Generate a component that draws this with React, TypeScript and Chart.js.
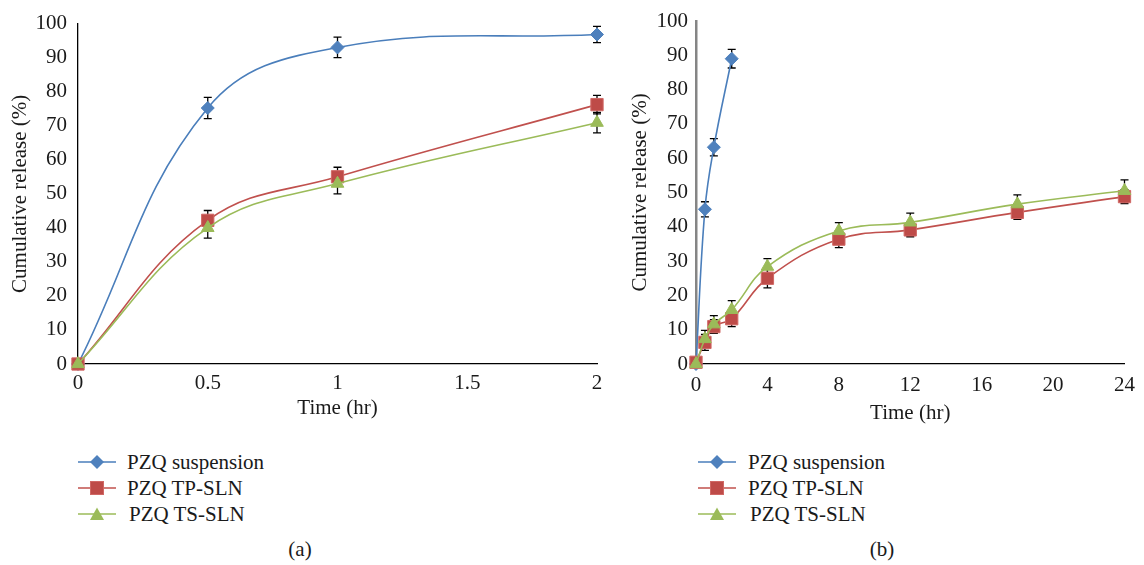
import React, { useEffect, useRef } from 'react';
import { Chart, registerables } from 'chart.js';

Chart.register(...registerables);

const FONT = '"Liberation Serif", Tinos, serif';
const TEXT = '#1a1a1a';
Chart.defaults.font.family = FONT;

// ---- Panel (a) data ----
const timeA = [0, 0.5, 1, 2];
const suspA = [0, 75.2, 93, 96.8];
const suspErrA = [0, 3.1, 3, 2.4];
const tpA = [0, 42.2, 55, 76.2];
const tpErrA = [0, 2.9, 2.8, 2.7];
const tsA = [0, 40, 53, 70.9];
const tsErrA = [0, 3, 3, 3];
const xTicksA = [0, 0.5, 1, 1.5, 2];

// ---- Panel (b) data ----
const timeSuspB = [0, 0.5, 1, 2];
const suspB = [0, 45.1, 63.2, 89];
const suspErrB = [0, 2.2, 2.5, 2.7];
const timeB = [0, 0.5, 1, 2, 4, 8, 12, 18, 24];
const tpB = [0.5, 6.3, 10.9, 13.2, 25, 36.4, 39.1, 44.2, 48.8];
const tpErrB = [0, 2.3, 2, 2.3, 2.8, 2.5, 2, 2, 2];
const tsB = [0, 7.3, 11.6, 15.8, 28.4, 38.8, 41.3, 46.6, 50.5];
const tsErrB = [0, 2.5, 2.5, 2.7, 2.3, 2.4, 2.7, 2.7, 3.2];
const xTicksB = [0, 4, 8, 12, 16, 20, 24];

const yTicks = [0, 10, 20, 30, 40, 50, 60, 70, 80, 90, 100];

const seriesNames = ['PZQ suspension', 'PZQ TP-SLN', 'PZQ TS-SLN'];

const BLUE_LINE = '#4a7ebb';
const BLUE = '#4f81bd';
const RED = '#c0504d';
const GREEN = '#9bbb59';

const errorBars = {
  id: 'errorBars',
  beforeDatasetsDraw(chart: any) {
    const ctx = chart.ctx;
    const yScale = chart.scales.y;
    chart.data.datasets.forEach((ds: any, i: number) => {
      const errs: number[] | undefined = ds.errors;
      if (!errs) return;
      const meta = chart.getDatasetMeta(i);
      ctx.save();
      ctx.strokeStyle = '#000';
      ctx.lineWidth = 1.3;
      ds.data.forEach((pt: any, j: number) => {
        const e = errs[j];
        if (!e) return;
        const x = meta.data[j].x;
        const y1 = yScale.getPixelForValue(pt.y + e);
        const y2 = yScale.getPixelForValue(pt.y - e);
        ctx.beginPath();
        ctx.moveTo(x, y1);
        ctx.lineTo(x, y2);
        ctx.moveTo(x - 4, y1);
        ctx.lineTo(x + 4, y1);
        ctx.moveTo(x - 4, y2);
        ctx.lineTo(x + 4, y2);
        ctx.stroke();
      });
      ctx.restore();
    });
  },
};

function pts(xs: number[], ys: number[]) {
  return xs.map((x, i) => ({ x, y: ys[i] }));
}

function makeDatasets(
  suspX: number[], susp: number[], suspErr: number[],
  x: number[], tp: number[], tpErr: number[], ts: number[], tsErr: number[]
) {
  const common = { tension: 0.4, borderWidth: 1.6, clip: false as any, pointBorderWidth: 1 };
  return [
    {
      ...common,
      label: seriesNames[0],
      data: pts(suspX, susp),
      errors: suspErr,
      borderColor: BLUE_LINE,
      backgroundColor: BLUE,
      pointBackgroundColor: BLUE,
      pointBorderColor: BLUE,
      pointStyle: 'rectRot',
      pointRadius: 6.5,
      order: 3,
    },
    {
      ...common,
      label: seriesNames[1],
      data: pts(x, tp),
      errors: tpErr,
      borderColor: RED,
      backgroundColor: RED,
      pointBackgroundColor: '#be4b48',
      pointBorderColor: '#d06865',
      pointStyle: 'rect',
      pointRadius: 8.7,
      order: 2,
    },
    {
      ...common,
      label: seriesNames[2],
      data: pts(x, ts),
      errors: tsErr,
      borderColor: GREEN,
      backgroundColor: GREEN,
      pointBackgroundColor: GREEN,
      pointBorderColor: GREEN,
      pointStyle: 'triangle',
      pointRadius: 7.3,
      order: 1,
    },
  ];
}

function makeOptions(cfg: {
  xMax: number; xTicks: number[]; padRight: number; padTop: number; yWidth: number;
  yTickPad: number; xHeight: number; xTickPad: number; xTitlePadBottom: number; yTitlePadTop: number;
  yBorderColor: string; yBorderWidth: number;
}) {
  const font = { family: FONT, size: 21 };
  return {
    animation: false,
    responsive: false,
    maintainAspectRatio: false,
    events: [],
    layout: { padding: { left: 0, top: cfg.padTop, right: cfg.padRight, bottom: 0 } },
    plugins: { legend: { display: false }, tooltip: { enabled: false } },
    scales: {
      x: {
        type: 'linear',
        min: 0,
        max: cfg.xMax,
        afterBuildTicks: (s: any) => { s.ticks = cfg.xTicks.map((v) => ({ value: v })); },
        afterFit: (s: any) => { s.height = cfg.xHeight; },
        grid: { display: false, drawTicks: false },
        border: { display: true, color: '#000', width: 1.3 },
        ticks: { padding: cfg.xTickPad, color: TEXT, font, maxRotation: 0, callback: (v: any) => String(v) },
        title: { display: true, text: 'Time (hr)', color: TEXT, font, padding: { top: 0, bottom: cfg.xTitlePadBottom } },
      },
      y: {
        type: 'linear',
        min: 0,
        max: 100,
        afterBuildTicks: (s: any) => { s.ticks = yTicks.map((v) => ({ value: v })); },
        afterFit: (s: any) => { s.width = cfg.yWidth; },
        grid: { display: false, drawTicks: false },
        border: { display: true, color: cfg.yBorderColor, width: cfg.yBorderWidth },
        ticks: { padding: cfg.yTickPad, color: TEXT, font, callback: (v: any) => String(v) },
        title: { display: true, text: 'Cumulative release (%)', color: TEXT, font, padding: { top: cfg.yTitlePadTop, bottom: 0 } },
      },
    },
  };
}

function ChartCanvas(props: { width: number; height: number; left: number; build: () => any }) {
  const ref = useRef<HTMLCanvasElement | null>(null);
  useEffect(() => {
    if (!ref.current) return;
    const chart = new Chart(ref.current, props.build());
    return () => chart.destroy();
  }, []);
  return (
    <canvas
      ref={ref}
      width={props.width}
      height={props.height}
      style={{ position: 'absolute', left: props.left, top: 0, width: props.width, height: props.height }}
    />
  );
}

function LegendSymbol(props: { kind: number }) {
  const colors = [BLUE_LINE, RED, GREEN];
  const c = colors[props.kind];
  let marker: any = null;
  if (props.kind === 0) marker = <polygon points="19,1 26,8 19,15 12,8" fill={BLUE} />;
  if (props.kind === 1) marker = <rect x={12.5} y={1.5} width={13} height={13} fill="#be4b48" stroke="#d06865" strokeWidth={1} />;
  if (props.kind === 2) marker = <polygon points="19,1.5 26,14 12,14" fill={GREEN} />;
  return (
    <svg width={38} height={16} style={{ position: 'absolute', left: 0, top: -8 }}>
      <line x1={0} y1={8} x2={38} y2={8} stroke={c} strokeWidth={1.6} />
      {marker}
    </svg>
  );
}

const textStyle = { fontFamily: FONT, fontSize: 21, color: TEXT, lineHeight: '26px', whiteSpace: 'nowrap' as const };

function Legend(props: { left: number; textLeft: number }) {
  const rows = [462, 488, 514];
  return (
    <>
      {seriesNames.map((name, i) => (
        <div key={name} style={{ position: 'absolute', left: props.left, top: rows[i], height: 0 }}>
          <LegendSymbol kind={i} />
          <div style={{ ...textStyle, position: 'absolute', left: props.textLeft + (i === 2 ? 2 : 0), top: -13 }}>
            {name}
          </div>
        </div>
      ))}
    </>
  );
}

export default function App() {
  useEffect(() => {
    document.body.style.margin = '0';
  }, []);

  const buildA = () => ({
    type: 'line',
    data: { datasets: makeDatasets(timeA, suspA, suspErrA, timeA, tpA, tpErrA, tsA, tsErrA) },
    options: makeOptions({
      xMax: 2, xTicks: xTicksA, padRight: 23, padTop: 20, yWidth: 78, yTickPad: 11,
      xHeight: 66, xTickPad: 7, xTitlePadBottom: 9, yTitlePadTop: 8,
      yBorderColor: '#000', yBorderWidth: 1.3,
    }),
    plugins: [errorBars],
  });

  const buildB = () => ({
    type: 'line',
    data: { datasets: makeDatasets(timeSuspB, suspB, suspErrB, timeB, tpB, tpErrB, tsB, tsErrB) },
    options: makeOptions({
      xMax: 24, xTicks: xTicksB, padRight: 10, padTop: 21, yWidth: 76, yTickPad: 8,
      xHeight: 66, xTickPad: 9, xTitlePadBottom: 4, yTitlePadTop: 8,
      yBorderColor: '#858585', yBorderWidth: 2.5,
    }),
    plugins: [errorBars],
  });

  return (
    <div style={{ position: 'relative', width: 1144, height: 565, background: '#fff', overflow: 'hidden' }}>
      <ChartCanvas width={620} height={430} left={0} build={buildA} />
      <ChartCanvas width={524} height={430} left={620} build={buildB} />
      <Legend left={78} textLeft={49} />
      <Legend left={698} textLeft={50} />
      <div style={{ ...textStyle, position: 'absolute', left: 280, width: 40, textAlign: 'center', top: 536 }}>(a)</div>
      <div style={{ ...textStyle, position: 'absolute', left: 862, width: 40, textAlign: 'center', top: 536 }}>(b)</div>
    </div>
  );
}
